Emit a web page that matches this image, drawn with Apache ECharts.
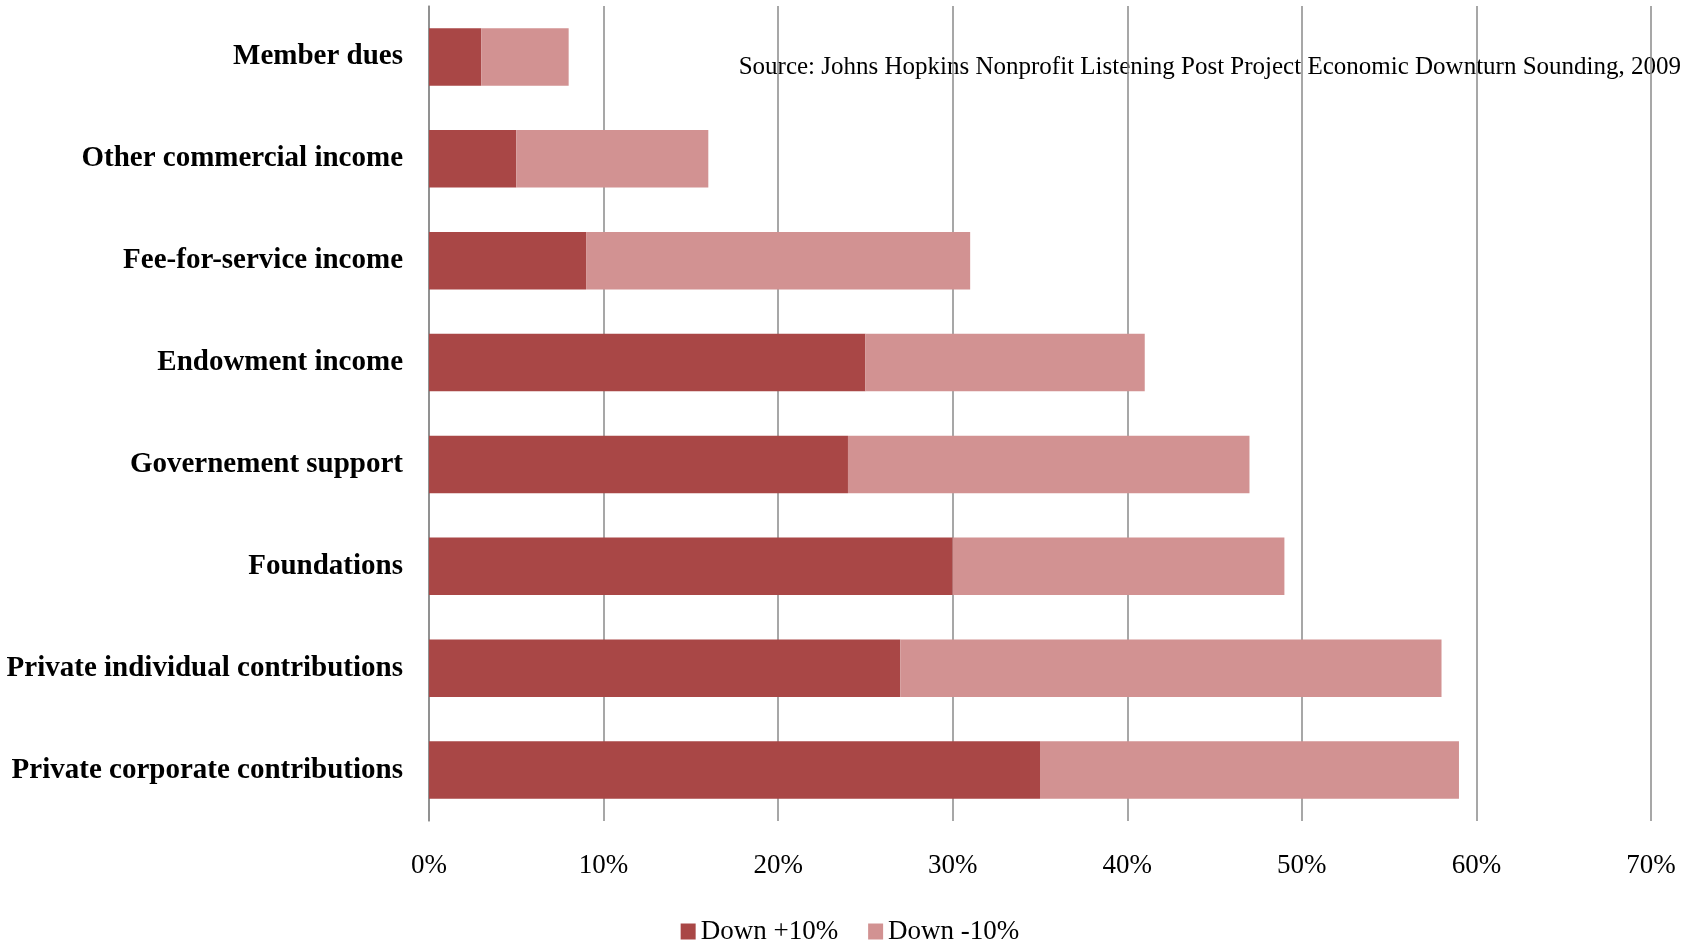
<!DOCTYPE html>
<html><head><meta charset="utf-8">
<script src="https://cdn.jsdelivr.net/npm/echarts@6/dist/echarts.min.js"></script>
<style>html,body{margin:0;padding:0;background:#fff}#c{width:1700px;height:943px}</style>
</head><body><div id="c"></div>
<script>
const categories = ["Member dues","Other commercial income","Fee-for-service income","Endowment income","Governement support","Foundations","Private individual contributions","Private corporate contributions"];
const downPlus10 = [3,5,9,25,24,30,27,35];
const downMinus10 = [5,11,22,16,23,19,31,24];
const seriesNames = ["Down +10%","Down -10%"];
const sourceText = "Source: Johns Hopkins Nonprofit Listening Post Project Economic Downturn Sounding, 2009";

const chart = echarts.init(document.getElementById('c'));
const serif = '"Liberation Serif", "DejaVu Serif", serif';
chart.setOption({
  animation:false,
  grid:{left:429,right:49,top:6,bottom:122,containLabel:false},
  legend:{top:913,left:'center',itemWidth:15,itemHeight:16,itemGap:30,icon:'rect',
    textStyle:{fontFamily:serif,fontSize:27,color:'#000'},data:seriesNames},
  xAxis:{type:'value',min:0,max:70,interval:10,
    axisLabel:{formatter:'{value}%',fontFamily:serif,fontSize:27,color:'#000',margin:31},
    axisLine:{show:false},axisTick:{show:false},
    splitLine:{show:true,lineStyle:{color:'#8a8a8a',width:1.5}}},
  yAxis:{type:'category',data:categories,inverse:true,
    axisLabel:{fontFamily:serif,fontSize:29,fontWeight:'bold',color:'#000',margin:26,padding:[5,0,0,0]},
    axisLine:{show:true,lineStyle:{color:'#8a8a8a',width:1.5}},axisTick:{show:false}},
  graphic:[{type:'text',right:19,top:55,style:{text:sourceText,fontFamily:serif,fontSize:25,fill:'#000'}}],
  series:[
    {name:seriesNames[0],type:'bar',stack:'a',data:downPlus10,barCategoryGap:'43.6%',
      itemStyle:{color:'#A94746'}},
    {name:seriesNames[1],type:'bar',stack:'a',data:downMinus10,
      itemStyle:{color:'#D29292'}}
  ]
});
</script></body></html>
